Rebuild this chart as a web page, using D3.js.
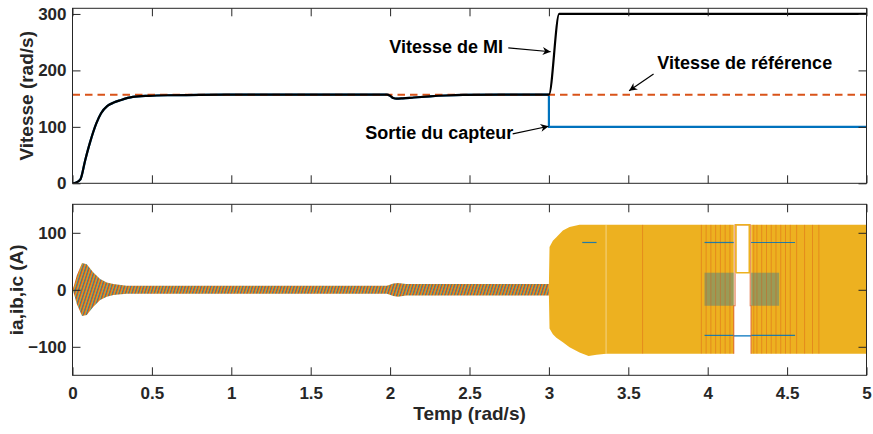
<!DOCTYPE html>
<html>
<head>
<meta charset="utf-8">
<script src="https://d3js.org/d3.v7.min.js"></script>
<style>
body { margin: 0; background: #fff; }
text { font-family: "Liberation Sans", Arial, Helvetica, sans-serif; font-weight: bold; }
</style>
</head>
<body>
<div id="chart"></div>
<script>
/* Speed of the machine (black), sensor output (blue), reference (orange dashed) */
var tMotor = [0, 0.02, 0.05, 0.08, 0.11, 0.15, 0.18, 0.22, 0.26, 0.3, 0.38, 0.48, 0.6, 0.8, 1.0, 1.5, 1.98, 2.0, 2.02, 2.04, 2.08, 2.15, 2.25, 2.35, 2.46, 2.7, 3.0, 3.065, 5.0];
var wMotor = [0, 1, 7, 41, 72, 106, 124, 137, 143, 147, 153, 155, 156, 156.5, 157, 157, 157, 155, 151, 150, 150.5, 152, 154, 155.5, 156.5, 157, 157, 300, 300];
var tSensor = [0, 0.02, 0.05, 0.08, 0.11, 0.15, 0.18, 0.22, 0.26, 0.3, 0.38, 0.48, 0.6, 0.8, 1.0, 1.5, 1.98, 2.0, 2.02, 2.04, 2.08, 2.15, 2.25, 2.35, 2.46, 2.7, 3.0, 3.0001, 5.0];
var wSensor = [0, 1, 7, 41, 72, 106, 124, 137, 143, 147, 153, 155, 156, 156.5, 157, 157, 157, 155, 151, 150, 150.5, 152, 154, 155.5, 156.5, 157, 157, 100, 100];
var tRef = [0, 5];
var wRef = [157, 157];

/* Current envelope, start-up and steady state (thin oscillating band) */
var tStart = [0, 0.01, 0.027, 0.06, 0.09, 0.13, 0.174, 0.216, 0.258, 0.34, 0.5, 1.0, 1.5, 1.98, 2.02, 2.05, 2.1, 2.2, 2.5, 3.0];
var upStart = [0, 8, 25, 47, 45, 31, 19, 13, 10, 7, 7, 7, 7, 7, 11, 12, 10, 10, 10, 10];
var lowStart = [0, -8, -25, -46, -44, -30, -18, -12, -9, -7, -7, -7, -7, -7, -11, -12, -10, -10, -10, -10];

/* Current envelope after the sensor fault (null = hole in the band) */
var tRun = [3.0, 3.004, 3.025, 3.047, 3.088, 3.13, 3.172, 3.193, 3.25, 3.3, 3.36, 4.164, 4.165, 4.273, 4.274, 5.0];
var upRun = [10, 75, 86, 92, 104, 110, 113, 114, 114, 114, 114, 114, null, null, 114, 114];
var lowRun = [-10, -68, -78, -84, -92, -101, -107, -110, -116, -114, -112, -112, null, null, -112, -112];

/* Step traces visible inside the hole */
var tHoleA = [4.164, 4.273];
var iHoleA = [-81, -81];
var tHoleB = [4.164, 4.164, 4.172, 4.172, 4.268, 4.268, 4.273, 4.273];
var iHoleB = [-112, -28, -28, 114, 114, -28, -28, -112];
var tHoleC = [4.178, 4.178, 4.262, 4.262, 4.178];
var iHoleC = [30, 114, 114, 30, 30];

/* Phase-a levels showing through the switching region */
var tLevelFrom = [3.98, 4.273, 3.98, 4.273, 3.21];
var tLevelTo = [4.164, 4.55, 4.164, 4.55, 3.3];
var iLevel = [83, 83, -80, -80, 83];

/* Phase-b spikes */
var tSpike = [3.59, 3.96, 3.99, 4.02, 4.05, 4.08, 4.11, 4.14, 4.29, 4.31, 4.34, 4.37, 4.4, 4.43, 4.46, 4.49, 4.52, 4.56, 4.61, 4.66, 4.7];

var xTicks = [0, 0.5, 1, 1.5, 2, 2.5, 3, 3.5, 4, 4.5, 5];
var ySpeedTicks = [0, 100, 200, 300];
var yCurTicks = [-100, 0, 100];

var blue = "#0072BD", orange = "#D95319", yellow = "#EDB120", axisCol = "#262626";

var svg = d3.select("#chart").append("svg")
    .attr("width", 873)
    .attr("height", 434);

var x = d3.scaleLinear().domain([0, 5]).range([72.5, 866.5]);
var yS = d3.scaleLinear().domain([0, 310]).range([183.3, 8.3]);
var yI = d3.scaleLinear().domain([-150, 150]).range([375.3, 204.3]);

var defs = svg.append("defs");
defs.append("clipPath").attr("id", "clipS").append("rect")
    .attr("x", 72.5).attr("y", 8.3).attr("width", 794).attr("height", 175);
defs.append("clipPath").attr("id", "clipI").append("rect")
    .attr("x", 72.5).attr("y", 204.3).attr("width", 794).attr("height", 171);

var pat = defs.append("pattern").attr("id", "osc")
    .attr("patternUnits", "userSpaceOnUse")
    .attr("width", 3.2).attr("height", 6)
    .attr("patternTransform", "skewX(-18)");
pat.append("rect").attr("width", 3.2).attr("height", 6).attr("fill", yellow);
pat.append("rect").attr("x", 0).attr("width", 1.1).attr("height", 6).attr("fill", orange);
pat.append("rect").attr("x", 2.2).attr("width", 0.8).attr("height", 6).attr("fill", blue);

defs.append("marker").attr("id", "arr")
    .attr("viewBox", "0 0 10 10")
    .attr("refX", 10).attr("refY", 5)
    .attr("markerWidth", 11).attr("markerHeight", 8)
    .attr("markerUnits", "userSpaceOnUse")
    .attr("orient", "auto")
    .append("path").attr("d", "M0,0 L10,5 L0,10 L3,5 Z").attr("fill", "#000");

function zip(ts, vs) { return ts.map((t, i) => ({t: t, v: vs[i]})); }

function drawAxes(y, top, bottom, yTicks, showX) {
    let g = svg.append("g");
    g.append("g").attr("transform", "translate(0," + bottom + ")")
        .call(d3.axisBottom(x).tickValues(xTicks).tickSize(-8).tickPadding(11.7)
            .tickFormat(showX ? d3.format("") : ""));
    g.append("g").attr("transform", "translate(0," + top + ")")
        .call(d3.axisTop(x).tickValues(xTicks).tickSize(-8).tickFormat(""));
    g.append("g").attr("transform", "translate(72.5,0)")
        .call(d3.axisLeft(y).tickValues(yTicks).tickSize(-8).tickPadding(6));
    g.append("g").attr("transform", "translate(866.5,0)")
        .call(d3.axisRight(y).tickValues(yTicks).tickSize(-8).tickFormat(""));
    g.selectAll(".domain").remove();
    g.selectAll("line").attr("stroke", axisCol).attr("stroke-width", 1);
    g.selectAll("text").attr("fill", axisCol).attr("font-size", "17px")
        .attr("font-family", "'Liberation Sans', Arial, sans-serif").attr("font-weight", "bold");
    svg.append("rect")
        .attr("x", 72.5).attr("y", top).attr("width", 794).attr("height", bottom - top)
        .attr("fill", "none").attr("stroke", axisCol).attr("stroke-width", 1);
}

/* ---- Top: speed ---- */
var lineS = d3.line().curve(d3.curveMonotoneX).x(d => x(d.t)).y(d => yS(d.v));
var gS = svg.append("g").attr("clip-path", "url(#clipS)");

gS.append("path").datum(zip(tSensor, wSensor)).attr("d", lineS)
    .attr("fill", "none").attr("stroke", blue).attr("stroke-width", 2.2);
gS.append("path").datum(zip(tRef, wRef)).attr("d", lineS)
    .attr("fill", "none").attr("stroke", orange).attr("stroke-width", 2)
    .attr("stroke-dasharray", "7.5,5");
gS.append("path").datum(zip(tMotor, wMotor)).attr("d", lineS)
    .attr("fill", "none").attr("stroke", "#000").attr("stroke-width", 2.2)
    .attr("stroke-linejoin", "round");

drawAxes(yS, 8.3, 183.3, ySpeedTicks, false);

/* annotations */
function note(txt, tx, vx, anchor, t1, v1, t2, v2) {
    svg.append("text").attr("x", x(tx)).attr("y", yS(vx))
        .attr("text-anchor", anchor).attr("font-size", "18px").attr("fill", "#000").text(txt);
    svg.append("line")
        .attr("x1", x(t1)).attr("y1", yS(v1)).attr("x2", x(t2)).attr("y2", yS(v2))
        .attr("stroke", "#000").attr("stroke-width", 1.2).attr("marker-end", "url(#arr)");
}
note("Vitesse de MI", 2.711, 230, "end", 2.744, 240, 3.011, 233);
note("Sortie du capteur", 2.776, 78, "end", 2.772, 87.5, 2.998, 101);
note("Vitesse de référence", 3.683, 202, "start", 3.659, 193.6, 3.505, 164);

/* ---- Bottom: currents ---- */
var gI = svg.append("g").attr("clip-path", "url(#clipI)");
var areaI = d3.area()
    .defined(d => d.up !== null)
    .x(d => x(d.t)).y0(d => yI(d.low)).y1(d => yI(d.up));
var lineI = d3.line().x(d => x(d.t)).y(d => yI(d.v));

gI.append("path")
    .datum(tStart.map((t, i) => ({t: t, up: upStart[i], low: lowStart[i]})))
    .attr("d", areaI).attr("fill", "url(#osc)");
gI.append("path")
    .datum(tRun.map((t, i) => ({t: t, up: upRun[i], low: lowRun[i]})))
    .attr("d", areaI).attr("fill", yellow);

/* light seam between the fault transient and the switching band */
gI.append("line")
    .attr("x1", x(3.36)).attr("x2", x(3.36))
    .attr("y1", yI(114)).attr("y2", yI(-112))
    .attr("stroke", "#fff").attr("stroke-width", 1).attr("opacity", 0.45);

gI.selectAll(".mid").data([0, 1]).enter().append("rect")
    .attr("x", i => x(i ? 4.273 : 3.98))
    .attr("width", i => x(i ? 4.45 : 4.164) - x(i ? 4.273 : 3.98))
    .attr("y", yI(30)).attr("height", yI(-28) - yI(30))
    .attr("fill", blue).attr("opacity", 0.35);

gI.selectAll(".spk").data(tSpike).enter().append("line")
    .attr("x1", d => x(d)).attr("x2", d => x(d))
    .attr("y1", yI(114)).attr("y2", yI(-112))
    .attr("stroke", orange).attr("stroke-width", 0.9).attr("opacity", 0.45);

gI.selectAll(".lvl").data(iLevel).enter().append("line")
    .attr("x1", (d, i) => x(tLevelFrom[i])).attr("x2", (d, i) => x(tLevelTo[i]))
    .attr("y1", d => yI(d)).attr("y2", d => yI(d))
    .attr("stroke", blue).attr("stroke-width", 1.2).attr("opacity", 0.85);

gI.append("path").datum(zip(tHoleA, iHoleA)).attr("d", lineI)
    .attr("fill", "none").attr("stroke", blue).attr("stroke-width", 1.3);
gI.append("path").datum(zip(tHoleB, iHoleB)).attr("d", lineI)
    .attr("fill", "none").attr("stroke", orange).attr("stroke-width", 1.2).attr("opacity", 0.75);
gI.append("path").datum(zip(tHoleC, iHoleC)).attr("d", lineI)
    .attr("fill", "none").attr("stroke", yellow).attr("stroke-width", 1.6);

drawAxes(yI, 204.3, 375.3, yCurTicks, true);

/* axis titles */
svg.append("text")
    .attr("transform", "translate(33," + (8.3 + 183.3) / 2 + ") rotate(-90)")
    .attr("text-anchor", "middle").attr("font-size", "19px").attr("fill", axisCol)
    .text("Vitesse (rad/s)");
svg.append("text")
    .attr("transform", "translate(23," + (204.3 + 375.3) / 2 + ") rotate(-90)")
    .attr("text-anchor", "middle").attr("font-size", "19px").attr("fill", axisCol)
    .text("ia,ib,ic (A)");
svg.append("text")
    .attr("x", (72.5 + 866.5) / 2).attr("y", 420)
    .attr("text-anchor", "middle").attr("font-size", "19px").attr("fill", axisCol)
    .text("Temp (rad/s)");
</script>
</body>
</html>
